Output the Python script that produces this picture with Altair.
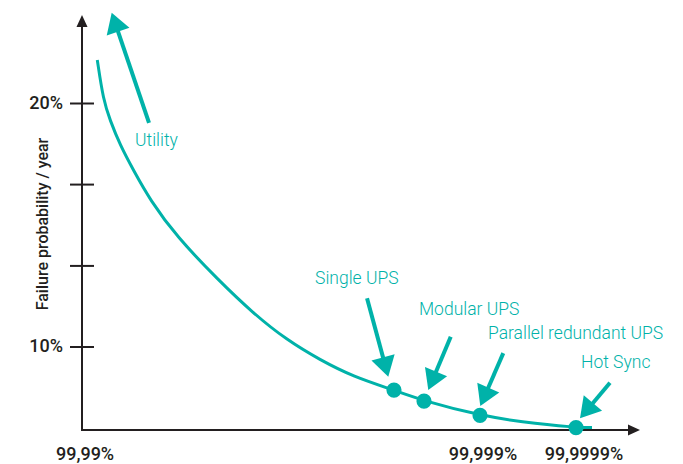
import math
import altair as alt
import pandas as pd

# ---------------- data ----------------
# x: position along the availability axis (0 = axis origin, 100 = arrow tip)
# y: failure probability per year, in %
curve_x = [2.74, 3.82, 5.02, 6.81, 9.19, 12.19, 16.97, 24.43, 30.70, 36.68, 42.65,
           48.62, 55.91, 61.29, 71.33, 78.49, 88.53, 91.40]
curve_y = [21.79, 20.14, 19.32, 18.30, 17.27, 16.04, 14.53, 12.75, 11.38, 10.29, 9.47,
           8.78, 8.23, 7.78, 7.19, 6.93, 6.69, 6.69]

systems = ["Single UPS", "Modular UPS", "Parallel redundant UPS", "Hot Sync"]
system_x = [55.91, 61.29, 71.33, 88.53]
system_y = [8.23, 7.78, 7.19, 6.69]

labels = ["Utility", "Single UPS", "Modular UPS", "Parallel redundant UPS", "Hot Sync"]
label_x = [9.50, 41.76, 60.39, 72.76, 89.43]
label_y = [18.46, 12.79, 11.52, 10.53, 9.34]

arrow_tail_x = [12.01, 51.08, 66.08, 75.50, 94.62]
arrow_tail_y = [19.20, 12.00, 10.42, 9.75, 8.53]
arrow_tip_x = [5.32, 54.89, 62.06, 71.38, 89.25]
arrow_tip_y = [23.73, 8.78, 8.23, 7.58, 7.07]

y_ticks = [20, 16.67, 13.33, 10]
y_tick_labels = ["20%", "", "", "10%"]
x_tick_labels = ["99,99%", "99,999%", "99,9999%"]
x_tick_pos = [0.54, 71.86, 89.96]
y_title = "Failure probability / year"

# ---------------- layout / style ----------------
W, H = 667, 456
SX, SY = 5.58, 24.35          # px per x unit, px per y unit
X_MIN = -13.262
X_MAX = X_MIN + W / SX
Y_MAX = 23.922
Y_MIN = Y_MAX - H / SY
AXIS_Y = 6.59                 # where the x axis sits
X_TIP, Y_TIP = 100.0, 23.63   # axis arrow tips
TEAL = "#00B2A9"
DARK = "#231F20"
HEAD_LEN = 20

xs = lambda f="x": alt.X(f"{f}:Q", scale=alt.Scale(domain=[X_MIN, X_MAX], nice=False, zero=False), axis=None)
ys = lambda f="y": alt.Y(f"{f}:Q", scale=alt.Scale(domain=[Y_MIN, Y_MAX], nice=False, zero=False), axis=None)

# axes
axis_df = pd.DataFrame({
    "x": [0, 0], "y": [AXIS_Y, AXIS_Y],
    "x2": [0, X_TIP - 11 / SX], "y2": [Y_TIP - 11 / SY, AXIS_Y],
})
axis_lines = alt.Chart(axis_df).mark_rule(color=DARK, strokeWidth=2, strokeCap="square").encode(
    x=xs(), y=ys(), x2="x2:Q", y2="y2:Q")

tick_df = pd.DataFrame({"y": y_ticks, "x": [-12 / SX] * 4, "x2": [12 / SX] * 4, "label": y_tick_labels})
ticks = alt.Chart(tick_df).mark_rule(color=DARK, strokeWidth=2).encode(x=xs(), x2="x2:Q", y=ys())
tick_text = alt.Chart(tick_df).mark_text(
    align="right", baseline="middle", font="Roboto", fontSize=18, fontWeight=500, color=DARK
).encode(x=alt.value((0 - X_MIN) * SX - 19), y=ys(), text="label:N")

axis_head_path = "M0,0L-0.92,2L0.92,2Z"
axis_heads_df = pd.DataFrame({"x": [0, X_TIP], "y": [Y_TIP, AXIS_Y], "angle": [0, 90]})
axis_heads = alt.Chart(axis_heads_df).mark_point(
    shape=axis_head_path, filled=True, size=144, color=DARK, opacity=1, strokeWidth=0
).encode(x=xs(), y=ys(), angle=alt.Angle("angle:Q", scale=None))

xlab_df = pd.DataFrame({"x": x_tick_pos, "label": x_tick_labels})
xlabels = alt.Chart(xlab_df).mark_text(
    align="center", baseline="middle", font="Roboto", fontSize=18, fontWeight=500, color=DARK
).encode(x=xs(), y=alt.value((Y_MAX - 5.565) * SY), text="label:N")

title_df = pd.DataFrame({"x": [-6.99], "y": [15.05], "label": [y_title]})
ytitle = alt.Chart(title_df).mark_text(
    angle=270, align="center", baseline="middle", font="Roboto", fontSize=16, fontWeight=500, color=DARK
).encode(x=xs(), y=ys(), text="label:N")

# curve
curve_df = pd.DataFrame({"x": curve_x, "y": curve_y})
curve = alt.Chart(curve_df).mark_line(color=TEAL, strokeWidth=3, interpolate="basis").encode(
    x=xs(), y=ys(), order=alt.Order("x:Q"))

# arrows
rows = []
for tx, ty, hx, hy in zip(arrow_tail_x, arrow_tail_y, arrow_tip_x, arrow_tip_y):
    dxp = (hx - tx) * SX
    dyp = -(hy - ty) * SY
    ln = math.hypot(dxp, dyp)
    ux, uy = dxp / ln, dyp / ln
    ang = math.degrees(math.atan2(dxp, -dyp)) % 360
    ex = hx - 0.6 * HEAD_LEN * ux / SX
    ey = hy + 0.6 * HEAD_LEN * uy / SY
    rows.append({"x": tx, "y": ty, "x2": ex, "y2": ey, "hx": hx, "hy": hy, "angle": ang})
arrow_df = pd.DataFrame(rows)
shafts = alt.Chart(arrow_df).mark_rule(color=TEAL, strokeWidth=4).encode(
    x=xs(), y=ys(), x2="x2:Q", y2="y2:Q")
head_path = "M0,0L-1.2,2L1.2,2Z"
heads = alt.Chart(arrow_df).mark_point(
    shape=head_path, filled=True, size=HEAD_LEN ** 2, color=TEAL, opacity=1, strokeWidth=0
).encode(x=xs("hx"), y=ys("hy"), angle=alt.Angle("angle:Q", scale=None))

# system dots
dots_df = pd.DataFrame({"x": system_x, "y": system_y, "system": systems})
dots = alt.Chart(dots_df).mark_circle(color=TEAL, size=230, opacity=1).encode(x=xs(), y=ys())

# labels
lab_df = pd.DataFrame({"x": label_x, "y": label_y, "label": labels})
ann = alt.Chart(lab_df).mark_text(
    align="left", baseline="middle", font="Roboto", fontSize=17.5, fontWeight=300, color=TEAL
).encode(x=xs(), y=ys(), text="label:N")

chart = alt.layer(
    axis_lines, ticks, axis_heads, tick_text, xlabels, ytitle,
    curve, shafts, heads, dots, ann
).properties(
    width=W, height=H, padding=0, background="white",
    autosize=alt.AutoSizeParams(type="none")
).configure_view(stroke=None)

chart.save("out.html", embed_options={"renderer": "svg", "actions": False})
